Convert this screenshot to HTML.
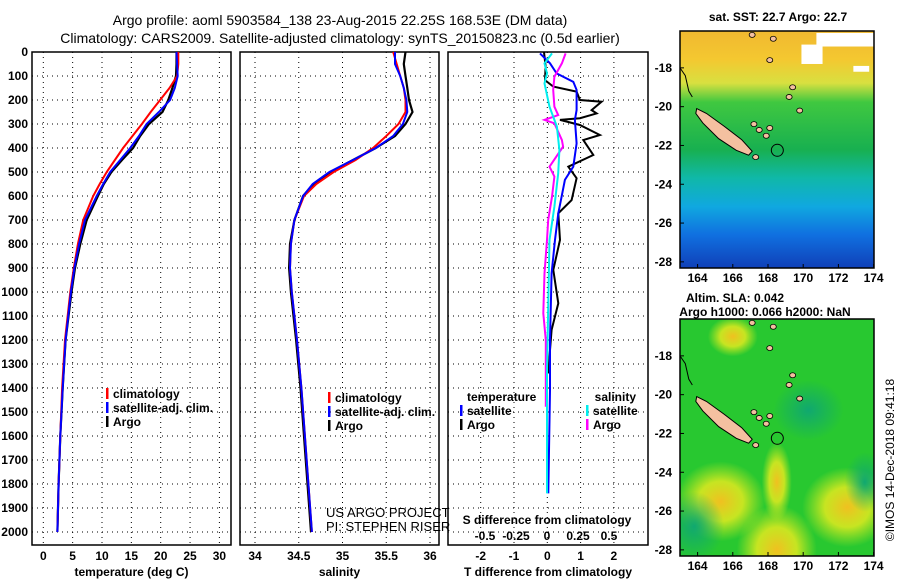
<!DOCTYPE html>
<html><head><meta charset="utf-8">
<style>
html,body{margin:0;padding:0;background:#fff;}
svg{display:block;font-family:"Liberation Sans",sans-serif;}
.t{font-size:12px;font-weight:bold;fill:#000;}
.h{font-size:14px;fill:#000;}
</style></head>
<body>
<svg id="fig" width="900" height="580" viewBox="0 0 900 580" xmlns="http://www.w3.org/2000/svg">
<defs>
<linearGradient id="sstg" x1="0" y1="0" x2="0" y2="1">
<stop offset="0" stop-color="#f0b830"/><stop offset="0.12" stop-color="#f4c830"/>
<stop offset="0.22" stop-color="#d8e040"/><stop offset="0.30" stop-color="#40c840"/>
<stop offset="0.50" stop-color="#18b050"/><stop offset="0.62" stop-color="#10b8a8"/>
<stop offset="0.74" stop-color="#10a8e0"/><stop offset="0.86" stop-color="#1070e0"/>
<stop offset="1" stop-color="#1040b8"/></linearGradient>
<radialGradient id="yb"><stop offset="0" stop-color="#f0c020"/><stop offset="0.5" stop-color="#d8e820" stop-opacity="0.9"/><stop offset="1" stop-color="#c0e820" stop-opacity="0"/></radialGradient>
<radialGradient id="gb"><stop offset="0" stop-color="#10a870"/><stop offset="1" stop-color="#10a870" stop-opacity="0"/></radialGradient>
<clipPath id="c1"><rect x="680" y="31" width="194" height="237"/></clipPath>
<clipPath id="c2"><rect x="680" y="319" width="194" height="237"/></clipPath>
</defs>
<text class="h" x="340" y="25" text-anchor="middle">Argo profile: aoml 5903584_138 23-Aug-2015 22.25S 168.53E (DM data)</text>
<text class="h" x="340" y="43" text-anchor="middle">Climatology: CARS2009. Satellite-adjusted climatology: synTS_20150823.nc (0.5d earlier)</text>
<g id="maps"></g>
<g id="panels"></g>
</svg>
<script>
// ---- data ----
const tDepth = [0,50,100,150,200,250,300,350,400,450,500,550,600,700,800,900,1000,1200,1400,1600,1800,2000];
const tClim = [23.0,23.0,22.8,21.5,19.9,18.3,16.8,15.2,13.6,12.2,10.8,9.6,8.5,6.8,5.9,5.2,4.6,3.7,3.2,2.9,2.6,2.4];
const tSat  = [22.7,22.8,22.9,22.4,21.6,19.7,17.6,16.3,14.8,13.1,11.4,10.2,9.1,7.1,6.1,5.3,4.7,3.8,3.3,2.9,2.6,2.4];
const tArgo = [22.7,22.7,22.6,22.0,21.3,20.3,18.0,16.5,15.3,13.4,11.6,10.3,9.3,7.4,6.3,5.4,4.8,3.8,3.3,2.9,2.6,2.4];
const sClim = [35.58,35.62,35.66,35.70,35.72,35.72,35.64,35.50,35.35,35.15,34.90,34.70,34.56,34.45,34.41,34.40,34.42,34.48,34.53,34.57,34.61,34.65];
const sSat  = [35.60,35.60,35.66,35.70,35.73,35.74,35.69,35.58,35.38,35.12,34.85,34.66,34.55,34.45,34.41,34.40,34.42,34.48,34.53,34.57,34.61,34.65];
const sArgo = [35.72,35.70,35.72,35.74,35.76,35.80,35.72,35.60,35.38,35.12,34.86,34.67,34.55,34.45,34.40,34.39,34.41,34.47,34.52,34.56,34.60,34.64];
const dtArgoDepth = [0,60,117,144,165,200,207,242,256,276,283,304,346,367,429,478,526,617,672,783,908,1047,1158,1242,1339];
const dtArgo = [-0.10,-0.05,-0.07,0.18,0.88,0.98,1.63,1.33,1.48,0.98,0.38,0.98,1.58,1.08,1.38,0.63,0.88,0.73,0.33,0.38,0.18,0.33,0.13,0.08,0.03];
const dtSatDepth = [6,47,89,124,158,242,283,381,478,533,603,672,783,922,1200,1408,1839];
const dtSat = [-0.22,0.08,0.28,0.78,0.88,0.88,0.83,0.88,0.78,0.53,0.43,0.33,0.23,0.13,0.08,0.08,0.03];
const dsSatDepth = [6,47,89,131,228,311,408,506,644,783,1061,1339,1839];
const dsSat = [0.04,-0.02,0,-0.02,0.02,0.08,0.10,0.09,0.06,0.02,0.01,0,0];
const dsArgoDepth = [6,47,103,158,228,263,283,297,367,394,478,519,603,700,783,922,1089,1200,1478];
const dsArgo = [0.15,0.12,0.06,0.05,0.06,0.09,-0.02,0.06,0.12,0.13,0.02,0.06,0.04,0.01,0,-0.02,-0.03,-0.01,-0.01];
const depthTicks = [0,100,200,300,400,500,600,700,800,900,1000,1100,1200,1300,1400,1500,1600,1700,1800,1900,2000];
const tTicks = [0,5,10,15,20,25,30];
const sTicks = [34,34.5,35,35.5,36];
const dtTicks = [-2,-1,0,1,2];
const dsTicks = [-0.5,-0.25,0,0.25,0.5];
const latTicks = [-18,-20,-22,-24,-26,-28];
const lonTicks = [164,166,168,170,172,174];

// ---- scales ----
const PT=52, PB=545;
const yD = d => PT + d*0.24;
const xT = t => 43.3 + t*5.87;
const xS = s => 255 + (s-34)*87.5;
const xDT = v => 547.3 + v*33.3;
const xDS = v => 547 + v*124;
const NS='http://www.w3.org/2000/svg';
function mk(tag, attrs, parent){const e=document.createElementNS(NS,tag);for(const k in attrs)e.setAttribute(k,attrs[k]);parent.appendChild(e);return e;}
const P=document.getElementById('panels');

function panel(name,x0,x1,xTicks,xf,xlabels,title){
  const g=mk('g',{},P);
  
  
  depthTicks.forEach(d=>{const l=mk('line',{x1:x0,x2:x1,y1:yD(d),y2:yD(d),stroke:'#000','stroke-width':1,'stroke-dasharray':'1,4'},g);
    
    });
  xTicks.forEach(v=>{const l=mk('line',{x1:xf(v),x2:xf(v),y1:PT,y2:PB,stroke:'#000','stroke-width':1,'stroke-dasharray':'1,4'},g);
    
    
    if(xlabels){const t=mk('text',{x:xf(v),y:560,'text-anchor':'middle',class:'t'},g);t.textContent=String(v);
      
      }});
  const r=mk('rect',{x:x0,y:PT,width:x1-x0,height:PB-PT,fill:'none',stroke:'#000','stroke-width':1.5},g);
  
  
  const tt=mk('text',{x:(x0+x1)/2,y:576,'text-anchor':'middle',class:'t'},g);tt.textContent=title;
  
  
  return g;
}
function line(g,name,depths,vals,xf,color,w){
  const pts=depths.map((d,i)=>xf(vals[i]).toFixed(1)+','+yD(d).toFixed(1)).join(' ');
  const p=mk('polyline',{points:pts,fill:'none',stroke:color,'stroke-width':w||2},g);
  
  
}
function txt(g,name,x,y,s,opt){const t=mk('text',Object.assign({x:x,y:y,class:'t'},opt||{}),g);t.textContent=s;
  
  return t;}
function bar(g,x,y,c){const b=mk('rect',{x:x,y:y-10,width:2.5,height:11,fill:c},g);
  
  }

// depth labels
depthTicks.forEach(d=>{txt(P,'y-tick-label',28,yD(d)+4,String(d),{'text-anchor':'end'});});

// panel 1
const g1=panel('temperature-panel',32,231,tTicks,xT,true,'temperature (deg C)');
line(g1,'temp-argo-line',tDepth,tArgo,xT,'#000',2.2);
line(g1,'temp-clim-line',tDepth,tClim,xT,'#f00',2);
line(g1,'temp-sat-line',tDepth,tSat,xT,'#00f',2);
[['climatology','#f00'],['satellite-adj. clim.','#00f'],['Argo','#000']].forEach((e,i)=>{bar(g1,106,398+i*14,e[1]);txt(g1,'legend-entry',113,398+i*14,e[0]);});

// panel 2
const g2=panel('salinity-panel',240,439,sTicks,xS,true,'salinity');
line(g2,'sal-argo-line',tDepth,sArgo,xS,'#000',2.2);
line(g2,'sal-clim-line',tDepth,sClim,xS,'#f00',2);
line(g2,'sal-sat-line',tDepth,sSat,xS,'#00f',2);
[['climatology','#f00'],['satellite-adj. clim.','#00f'],['Argo','#000']].forEach((e,i)=>{bar(g2,328,402+i*14,e[1]);txt(g2,'legend-entry',335,402+i*14,e[0]);});
txt(g2,'credit-project',326,517,'US ARGO PROJECT',{style:'font-weight:normal;font-size:13px'});
txt(g2,'credit-pi',326,531,'PI: STEPHEN RISER',{style:'font-weight:normal;font-size:13px'});

// panel 3
const g3=panel('difference-panel',448,648,dtTicks,xDT,true,'T difference from climatology');
line(g3,'dt-argo-line',dtArgoDepth,dtArgo,xDT,'#000',2);
line(g3,'dt-sat-line',dtSatDepth,dtSat,xDT,'#00f',2);
line(g3,'ds-argo-line',dsArgoDepth,dsArgo,xDS,'#f0f',2);
line(g3,'ds-sat-line',dsSatDepth,dsSat,xDS,'#0ee',2);
txt(g3,'s-axis-title',547,524,'S difference from climatology',{'text-anchor':'middle'});
dsTicks.forEach(v=>txt(g3,'s-tick-label',xDS(v),540,String(v).replace('0.','0.'),{'text-anchor':'middle'}));
txt(g3,'legend-temp-header',467,401,'temperature');
bar(g3,460,415,'#00f');txt(g3,'legend-entry',467,415,'satellite');
bar(g3,460,429,'#000');txt(g3,'legend-entry',467,429,'Argo');
txt(g3,'legend-sal-header',636,401,'salinity',{'text-anchor':'end'});
bar(g3,586,415,'#0ee');txt(g3,'legend-entry',593,415,'satellite');
bar(g3,586,429,'#f0f');txt(g3,'legend-entry',593,429,'Argo');

// ---- maps ----
const M=document.getElementById('maps');
const mx = lon => 680 + (lon-163)*17.6;
const island=[[163.95,-20.1],[164.5,-20.35],[165.5,-21.0],[166.5,-21.7],[167.1,-22.3],[166.9,-22.5],[166.2,-22.25],[165.2,-21.65],[164.3,-20.85],[163.9,-20.35]];
const smallIsl=[[167.2,-20.9],[167.5,-21.2],[167.9,-21.5],[168.1,-21.1],[167.3,-22.6],[169.2,-19.5],[169.4,-19.0],[169.8,-20.2],[168.1,-17.6],[167.1,-16.3],[168.3,-16.5]];
function map(name,top,clip,bgfn){
  const my = lat => top + (-16.1-lat)*19.4;
  const g=mk('g',{},M);
  
  
  const inner=mk('g',{'clip-path':'url(#'+clip+')'},g);
  bgfn(inner,my);
  const isl=mk('polygon',{points:island.map(p=>mx(p[0]).toFixed(1)+','+my(p[1]).toFixed(1)).join(' '),fill:'#f4c0a0',stroke:'#000','stroke-width':1},inner);
  
  
  smallIsl.forEach(p=>{const e=mk('ellipse',{cx:mx(p[0]),cy:my(p[1]),rx:3,ry:2.5,fill:'#f4c0a0',stroke:'#000','stroke-width':0.8},inner);
    
    });
  const reef=mk('polyline',{points:[[163,-18.0],[163.3,-18.4],[163.5,-19.2],[163.7,-19.5]].map(p=>mx(p[0])+','+my(p[1])).join(' '),fill:'none',stroke:'#000','stroke-width':1},inner);
  
  
  const c=mk('circle',{cx:mx(168.53),cy:my(-22.25),r:6,fill:'none',stroke:'#000','stroke-width':1},inner);
  
  
  const fr=mk('rect',{x:680,y:top,width:194,height:237,fill:'none',stroke:'#000','stroke-width':1.5},g);
  
  
  latTicks.forEach(l=>{txt(g,'lat-tick-label',672,my(l)+4,String(l),{'text-anchor':'end'});
    const k=mk('line',{x1:680,x2:684,y1:my(l),y2:my(l),stroke:'#000'},g);
    
    });
  lonTicks.forEach(l=>{txt(g,'lon-tick-label',mx(l),top+251,String(l),{'text-anchor':'middle'});
    const k=mk('line',{x1:mx(l),x2:mx(l),y1:top+237,y2:top+233,stroke:'#000'},g);
    
    });
  return g;
}
map('sst-map',31,'c1',(g,my)=>{
  const r=mk('rect',{x:680,y:31,width:194,height:237,fill:'url(#sstg)'},g);
  
  
  [[172.5,-16.2,3.5,0.7],[170.5,-16.8,1.2,1.0],[173.3,-17.9,0.9,0.3]].forEach(w=>{const e=mk('rect',{x:mx(w[0]-w[2]/2),y:my(w[1]),width:w[2]*17.6,height:w[3]*19.4,fill:'#fff'},g);
    
    });
});
map('sla-map',319,'c2',(g,my)=>{
  const r=mk('rect',{x:680,y:319,width:194,height:237,fill:'#28c830'},g);
  
  
  [[165.3,-25.5,45,40,'yb'],[168.5,-28,40,45,'yb'],[172.5,-25.8,45,40,'yb'],[168.5,-24.5,15,40,'yb'],[170.3,-20.8,35,30,'gb'],[163.8,-26.8,30,35,'gb'],[173.5,-24.5,20,30,'gb'],[166,-17,25,20,'yb']].forEach(b=>{
    const e=mk('ellipse',{cx:mx(b[0]),cy:my(b[1]),rx:b[2],ry:b[3],fill:'url(#'+b[4]+')'},g);
    
    });
});
txt(M,'sst-map-title',778,21,'sat. SST: 22.7 Argo: 22.7',{'text-anchor':'middle'});
txt(M,'sla-map-title-1',735,302,'Altim. SLA: 0.042',{'text-anchor':'middle'});
txt(M,'sla-map-title-2',765,316,'Argo h1000: 0.066 h2000: NaN',{'text-anchor':'middle'});
txt(M,'copyright-stamp',0,0,'©IMOS 14-Dec-2018 09:41:18',{transform:'translate(894,460) rotate(-90)','text-anchor':'middle',style:'font-weight:normal;font-size:12px'});
</script>
</body></html>
